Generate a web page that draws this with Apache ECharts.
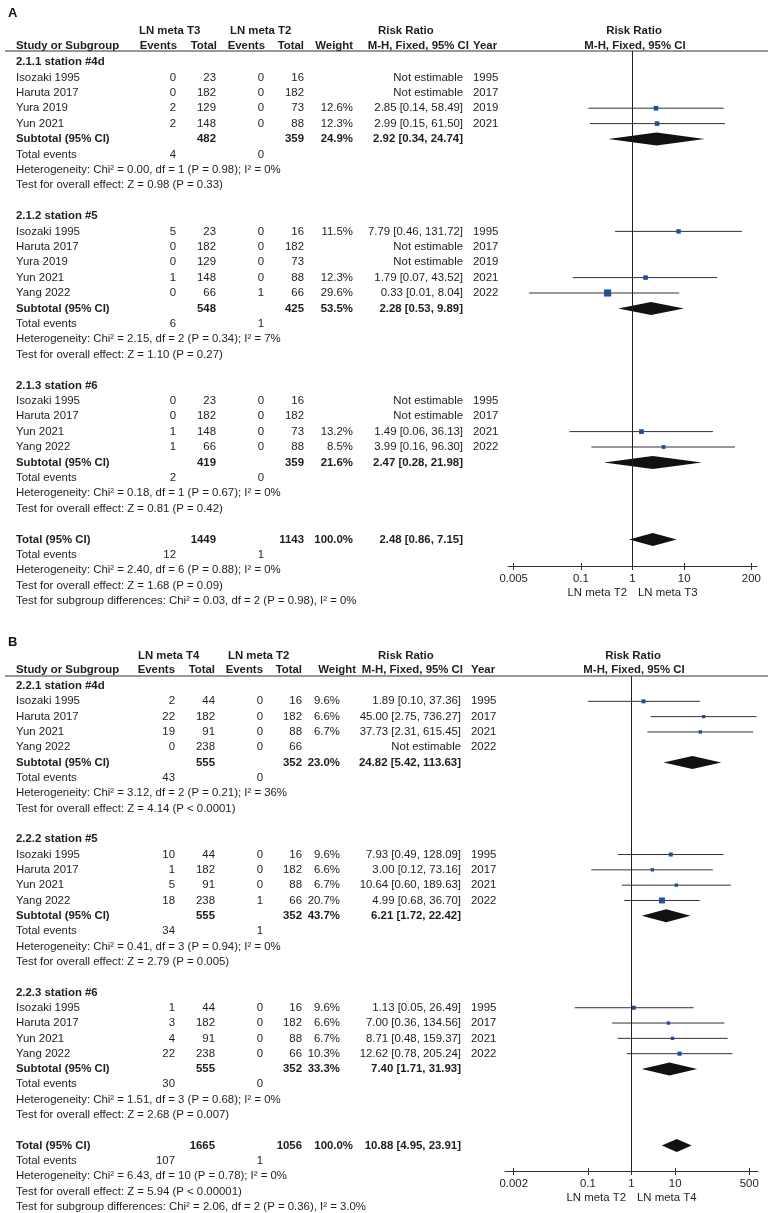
<!DOCTYPE html>
<html><head><meta charset="utf-8">
<script src="https://cdn.jsdelivr.net/npm/echarts@6/dist/echarts.min.js"></script>
<style>html,body{margin:0;padding:0;background:#fff}#c{width:774px;height:1213px}</style>
</head><body><div id="c"></div>
<script>
// ================= DATA : panel A (LN meta T3 vs LN meta T2) =================
const labelsA = [
  '2.1.1 station #4d','Isozaki 1995','Haruta 2017','Yura 2019','Yun 2021','Subtotal (95% CI)','Total events',
  'Heterogeneity: Chi² = 0.00, df = 1 (P = 0.98); I² = 0%','Test for overall effect: Z = 0.98 (P = 0.33)','',
  '2.1.2 station #5','Isozaki 1995','Haruta 2017','Yura 2019','Yun 2021','Yang 2022','Subtotal (95% CI)','Total events',
  'Heterogeneity: Chi² = 2.15, df = 2 (P = 0.34); I² = 7%','Test for overall effect: Z = 1.10 (P = 0.27)','',
  '2.1.3 station #6','Isozaki 1995','Haruta 2017','Yun 2021','Yang 2022','Subtotal (95% CI)','Total events',
  'Heterogeneity: Chi² = 0.18, df = 1 (P = 0.67); I² = 0%','Test for overall effect: Z = 0.81 (P = 0.42)','',
  'Total (95% CI)','Total events','Heterogeneity: Chi² = 2.40, df = 6 (P = 0.88); I² = 0%',
  'Test for overall effect: Z = 1.68 (P = 0.09)','Test for subgroup differences: Chi² = 0.03, df = 2 (P = 0.98), I² = 0%'
];
const kindsA = ['g','s','s','s','s','sub','te','n','n','',
  'g','s','s','s','s','s','sub','te','n','n','',
  'g','s','s','s','s','sub','te','n','n','',
  'tot','te','n','n','n'];
const ev1A  = [null,0,0,2,2,null,4,null,null,null, null,5,0,0,1,0,null,6,null,null,null, null,0,0,1,1,null,2,null,null,null, null,12,null,null,null];
const tot1A = [null,23,182,129,148,482,null,null,null,null, null,23,182,129,148,66,548,null,null,null,null, null,23,182,148,66,419,null,null,null,null, 1449,null,null,null,null];
const ev2A  = [null,0,0,0,0,null,0,null,null,null, null,0,0,0,0,1,null,1,null,null,null, null,0,0,0,0,null,0,null,null,null, null,1,null,null,null];
const tot2A = [null,16,182,73,88,359,null,null,null,null, null,16,182,73,88,66,425,null,null,null,null, null,16,182,73,88,359,null,null,null,null, 1143,null,null,null,null];
const weightA = [null,null,null,12.6,12.3,24.9,null,null,null,null, null,11.5,null,null,12.3,29.6,53.5,null,null,null,null, null,null,null,13.2,8.5,21.6,null,null,null,null, 100.0,null,null,null,null];
const rrA = [null,null,null,2.85,2.99,2.92,null,null,null,null, null,7.79,null,null,1.79,0.33,2.28,null,null,null,null, null,null,null,1.49,3.99,2.47,null,null,null,null, 2.48,null,null,null,null];
const loA = [null,null,null,0.14,0.15,0.34,null,null,null,null, null,0.46,null,null,0.07,0.01,0.53,null,null,null,null, null,null,null,0.06,0.16,0.28,null,null,null,null, 0.86,null,null,null,null];
const hiA = [null,null,null,58.49,61.50,24.74,null,null,null,null, null,131.72,null,null,43.52,8.04,9.89,null,null,null,null, null,null,null,36.13,96.30,21.98,null,null,null,null, 7.15,null,null,null,null];
const yearA = [null,1995,2017,2019,2021,null,null,null,null,null, null,1995,2017,2019,2021,2022,null,null,null,null,null, null,1995,2017,2021,2022,null,null,null,null,null, null,null,null,null,null];
const ticksA = [0.005, 0.1, 1, 10, 200];
const groupHeadsA = ['LN meta T3', 'LN meta T2'];
const axisNameA = ['LN meta T2', 'LN meta T3'];

// ================= DATA : panel B (LN meta T4 vs LN meta T2) =================
const labelsB = [
  '2.2.1 station #4d','Isozaki 1995','Haruta 2017','Yun 2021','Yang 2022','Subtotal (95% CI)','Total events',
  'Heterogeneity: Chi² = 3.12, df = 2 (P = 0.21); I² = 36%','Test for overall effect: Z = 4.14 (P < 0.0001)','',
  '2.2.2 station #5','Isozaki 1995','Haruta 2017','Yun 2021','Yang 2022','Subtotal (95% CI)','Total events',
  'Heterogeneity: Chi² = 0.41, df = 3 (P = 0.94); I² = 0%','Test for overall effect: Z = 2.79 (P = 0.005)','',
  '2.2.3 station #6','Isozaki 1995','Haruta 2017','Yun 2021','Yang 2022','Subtotal (95% CI)','Total events',
  'Heterogeneity: Chi² = 1.51, df = 3 (P = 0.68); I² = 0%','Test for overall effect: Z = 2.68 (P = 0.007)','',
  'Total (95% CI)','Total events','Heterogeneity: Chi² = 6.43, df = 10 (P = 0.78); I² = 0%',
  'Test for overall effect: Z = 5.94 (P < 0.00001)','Test for subgroup differences: Chi² = 2.06, df = 2 (P = 0.36), I² = 3.0%'
];
const kindsB = ['g','s','s','s','s','sub','te','n','n','',
  'g','s','s','s','s','sub','te','n','n','',
  'g','s','s','s','s','sub','te','n','n','',
  'tot','te','n','n','n'];
const ev1B  = [null,2,22,19,0,null,43,null,null,null, null,10,1,5,18,null,34,null,null,null, null,1,3,4,22,null,30,null,null,null, null,107,null,null,null];
const tot1B = [null,44,182,91,238,555,null,null,null,null, null,44,182,91,238,555,null,null,null,null, null,44,182,91,238,555,null,null,null,null, 1665,null,null,null,null];
const ev2B  = [null,0,0,0,0,null,0,null,null,null, null,0,0,0,1,null,1,null,null,null, null,0,0,0,0,null,0,null,null,null, null,1,null,null,null];
const tot2B = [null,16,182,88,66,352,null,null,null,null, null,16,182,88,66,352,null,null,null,null, null,16,182,88,66,352,null,null,null,null, 1056,null,null,null,null];
const weightB = [null,9.6,6.6,6.7,null,23.0,null,null,null,null, null,9.6,6.6,6.7,20.7,43.7,null,null,null,null, null,9.6,6.6,6.7,10.3,33.3,null,null,null,null, 100.0,null,null,null,null];
const rrB = [null,1.89,45.00,37.73,null,24.82,null,null,null,null, null,7.93,3.00,10.64,4.99,6.21,null,null,null,null, null,1.13,7.00,8.71,12.62,7.40,null,null,null,null, 10.88,null,null,null,null];
const loB = [null,0.10,2.75,2.31,null,5.42,null,null,null,null, null,0.49,0.12,0.60,0.68,1.72,null,null,null,null, null,0.05,0.36,0.48,0.78,1.71,null,null,null,null, 4.95,null,null,null,null];
const hiB = [null,37.36,736.27,615.45,null,113.63,null,null,null,null, null,128.09,73.16,189.63,36.70,22.42,null,null,null,null, null,26.49,134.56,159.37,205.24,31.93,null,null,null,null, 23.91,null,null,null,null];
const yearB = [null,1995,2017,2021,2022,null,null,null,null,null, null,1995,2017,2021,2022,null,null,null,null,null, null,1995,2017,2021,2022,null,null,null,null,null, null,null,null,null,null];
const ticksB = [0.002, 0.1, 1, 10, 500];
const groupHeadsB = ['LN meta T4', 'LN meta T2'];
const axisNameB = ['LN meta T2', 'LN meta T4'];

// shared header texts
const colHeads = ['Study or Subgroup','Events','Total','Events','Total','Weight','M-H, Fixed, 95% CI','Year'];
const rrHeads = ['Risk Ratio','M-H, Fixed, 95% CI'];

// ================= LAYOUT / STYLE =================
const FONT = '"Liberation Sans", Arial, Helvetica, sans-serif';
const FS = 11.4;
const TXT = '#1e1e1e';
const SQ_COLOR = '#1f4e9c';
const LINE_COLOR = '#333';
const SQ_K = 1.3;      // square side = SQ_K * sqrt(weight)
const DIA_H = 6.5;     // diamond half height

const LAYOUT = [
  { title: 'A', titleTop: 2, top: 51, bottom: 566, left: 508, right: 757, y0: 62, step: 15.4, pad: 0.109,
    cols: { label: 16, ev1: 176, tot1: 216, ev2: 264, tot2: 304, w: 353, wTot: 353, rr: 463, year: 473 },
    heads: { g1: 139, g2: 230, rr: 378, ev1: 177, tot1: 217, ev2: 265, tot2: 304, w: 353, mh: 469, year: 473, plot: 634 } },
  { title: 'B', titleTop: 631, top: 676, bottom: 1171, left: 505, right: 758, y0: 686, step: 15.32, pad: 0.2,
    cols: { label: 16, ev1: 175, tot1: 215, ev2: 263, tot2: 302, w: 340, wTot: 353, rr: 461, year: 471 },
    heads: { g1: 138, g2: 228, rr: 378, ev1: 175, tot1: 215, ev2: 263, tot2: 302, w: 356, mh: 463, year: 471, plot: 633 } }
];

const PANELS = [
  { labels: labelsA, kinds: kindsA, ev1: ev1A, tot1: tot1A, ev2: ev2A, tot2: tot2A, weight: weightA,
    rr: rrA, lo: loA, hi: hiA, year: yearA, ticks: ticksA, groupHeads: groupHeadsA, axisName: axisNameA },
  { labels: labelsB, kinds: kindsB, ev1: ev1B, tot1: tot1B, ev2: ev2B, tot2: tot2B, weight: weightB,
    rr: rrB, lo: loB, hi: hiB, year: yearB, ticks: ticksB, groupHeads: groupHeadsB, axisName: axisNameB }
];

function txt(text, x, y, align, bold) {
  return { type: 'text', x: x, y: y, silent: true,
    style: { text: String(text), fill: TXT, font: (bold ? 'bold ' : '') + FS + 'px ' + FONT,
             align: align, verticalAlign: 'middle' } };
}
function fmtRR(rr, lo, hi) {
  return rr == null ? 'Not estimable' : rr.toFixed(2) + ' [' + lo.toFixed(2) + ', ' + hi.toFixed(2) + ']';
}

const grids = [], xAxes = [], xTickAxes = [], yAxes = [], series = [], titles = [];

PANELS.forEach((P, gi) => {
  const L = LAYOUT[gi];
  const yMin = (L.top - L.y0) / L.step, yMax = (L.bottom - L.y0) / L.step;
  const lt = P.ticks.map(Math.log10);
  const xMin = lt[0] - L.pad, xMax = lt[lt.length - 1] + L.pad;
  grids.push({ left: L.left, width: L.right - L.left, top: L.top, height: L.bottom - L.top });
  titles.push({ text: L.title, left: 3, top: L.titleTop,
    textStyle: { fontSize: 13, fontWeight: 'bold', color: '#111', fontFamily: FONT } });
  xAxes.push({
    type: 'value', gridIndex: gi, position: 'bottom', min: xMin, max: xMax,
    splitLine: { show: false },
    axisLine: { show: true, onZero: false, lineStyle: { color: '#333', width: 1 } },
    axisTick: { show: true, length: 4, customValues: lt, lineStyle: { color: '#333' } },
    axisLabel: { customValues: lt, margin: 7, color: TXT, fontSize: FS, fontFamily: FONT,
      formatter: v => { const j = lt.findIndex(t => Math.abs(t - v) < 1e-6); return j >= 0 ? String(P.ticks[j]) : ''; } },
    name: '{l|' + P.axisName[0] + '}{r|' + P.axisName[1] + '}',
    nameLocation: 'middle', nameGap: 21,
    nameTextStyle: { color: TXT, fontSize: FS, fontFamily: FONT,
      rich: { l: { color: TXT, fontSize: FS, fontFamily: FONT, padding: [0, 5, 0, 0] },
              r: { color: TXT, fontSize: FS, fontFamily: FONT, padding: [0, 0, 0, 6] } } }
  });
  // companion axis: the upper half of the crossing tick marks
  xTickAxes.push({
    type: 'value', gridIndex: gi, position: 'bottom', offset: 0, min: xMin, max: xMax,
    splitLine: { show: false },
    axisLine: { show: false, onZero: false },
    axisTick: { show: true, inside: true, length: 3, customValues: lt, lineStyle: { color: '#333' } },
    axisLabel: { show: false }
  });
  yAxes.push({ type: 'value', gridIndex: gi, inverse: true, min: yMin, max: yMax, show: false });

  // header rows
  series.push({
    type: 'custom', xAxisIndex: gi, yAxisIndex: gi, silent: true, animation: false,
    encode: { x: 0, y: 1 }, data: [[0, -2], [0, -1.05]],
    renderItem(params, api) {
      const y = api.coord([0, api.value(1)])[1];
      const H = L.heads;
      if (params.dataIndex === 0) {
        return { type: 'group', children: [
          txt(P.groupHeads[0], H.g1, y, 'left', true),
          txt(P.groupHeads[1], H.g2, y, 'left', true),
          txt(rrHeads[0], H.rr, y, 'left', true),
          txt(rrHeads[0], H.plot, y, 'center', true)
        ] };
      }
      const ly = api.coord([0, yMin])[1];
      return { type: 'group', children: [
        txt(colHeads[0], L.cols.label, y, 'left', true),
        txt(colHeads[1], H.ev1, y, 'right', true),
        txt(colHeads[2], H.tot1, y, 'right', true),
        txt(colHeads[3], H.ev2, y, 'right', true),
        txt(colHeads[4], H.tot2, y, 'right', true),
        txt(colHeads[5], H.w, y, 'right', true),
        txt(colHeads[6], H.mh, y, 'right', true),
        txt(colHeads[7], H.year, y, 'left', true),
        txt(rrHeads[1], H.plot + 1, y, 'center', true),
        { type: 'line', silent: true, shape: { x1: 5, y1: ly, x2: 768, y2: ly },
          style: { stroke: '#333', lineWidth: 1 } }
      ] };
    }
  });

  // table body
  series.push({
    type: 'custom', xAxisIndex: gi, yAxisIndex: gi, silent: true, animation: false,
    encode: { x: 0, y: 1 }, data: P.labels.map((_, i) => [0, i]),
    renderItem(params, api) {
      const i = params.dataIndex;
      const y = api.coord([0, api.value(1)])[1];
      const k = P.kinds[i], C = L.cols;
      if (!k) return null;
      const bold = k === 'g' || k === 'sub' || k === 'tot';
      const ch = [txt(P.labels[i], C.label, y, 'left', bold)];
      if (k === 's' || k === 'te') {
        if (P.ev1[i] != null) ch.push(txt(P.ev1[i], C.ev1, y, 'right', false));
        if (P.ev2[i] != null) ch.push(txt(P.ev2[i], C.ev2, y, 'right', false));
      }
      if (k === 's' || k === 'sub' || k === 'tot') {
        ch.push(txt(P.tot1[i], C.tot1, y, 'right', bold));
        ch.push(txt(P.tot2[i], C.tot2, y, 'right', bold));
        if (P.weight[i] != null)
          ch.push(txt(P.weight[i].toFixed(1) + '%', k === 'tot' ? C.wTot : C.w, y, 'right', bold));
        ch.push(txt(fmtRR(P.rr[i], P.lo[i], P.hi[i]), C.rr, y, 'right', bold));
      }
      if (P.year[i] != null) ch.push(txt(P.year[i], C.year, y, 'left', false));
      return { type: 'group', children: ch };
    }
  });

  // forest marks
  const marks = [];
  P.rr.forEach((v, i) => {
    if (v != null) marks.push([Math.log10(v), i, Math.log10(P.lo[i]), Math.log10(P.hi[i]),
      P.weight[i], P.kinds[i] === 's' ? 0 : 1]);
  });
  series.push({
    type: 'custom', xAxisIndex: gi, yAxisIndex: gi, silent: true, animation: false,
    encode: { x: 0, y: 1 }, data: marks,
    renderItem(params, api) {
      const yv = api.value(1);
      const c = api.coord([api.value(0), yv]);
      const l = api.coord([api.value(2), yv]);
      const h = api.coord([api.value(3), yv]);
      if (api.value(5)) {
        return { type: 'polygon', silent: true,
          shape: { points: [[l[0], c[1]], [c[0], c[1] - DIA_H], [h[0], c[1]], [c[0], c[1] + DIA_H]] },
          style: { fill: '#111' } };
      }
      const s = SQ_K * Math.sqrt(api.value(4));
      return { type: 'group', children: [
        { type: 'line', silent: true, shape: { x1: l[0], y1: c[1], x2: h[0], y2: c[1] },
          style: { stroke: LINE_COLOR, lineWidth: 1 } },
        { type: 'rect', silent: true, shape: { x: c[0] - s / 2, y: c[1] - s / 2, width: s, height: s },
          style: { fill: SQ_COLOR } }
      ] };
    },
    markLine: { silent: true, symbol: 'none', animation: false, label: { show: false },
      lineStyle: { color: '#222', width: 1, type: 'solid' }, data: [{ xAxis: 0 }] }
  });
});

const chart = echarts.init(document.getElementById('c'), null, { renderer: 'canvas' });
chart.setOption({
  animation: false,
  backgroundColor: '#fff',
  title: titles,
  grid: grids,
  xAxis: xAxes.concat(xTickAxes),
  yAxis: yAxes,
  series: series
});
</script>
</body></html>
